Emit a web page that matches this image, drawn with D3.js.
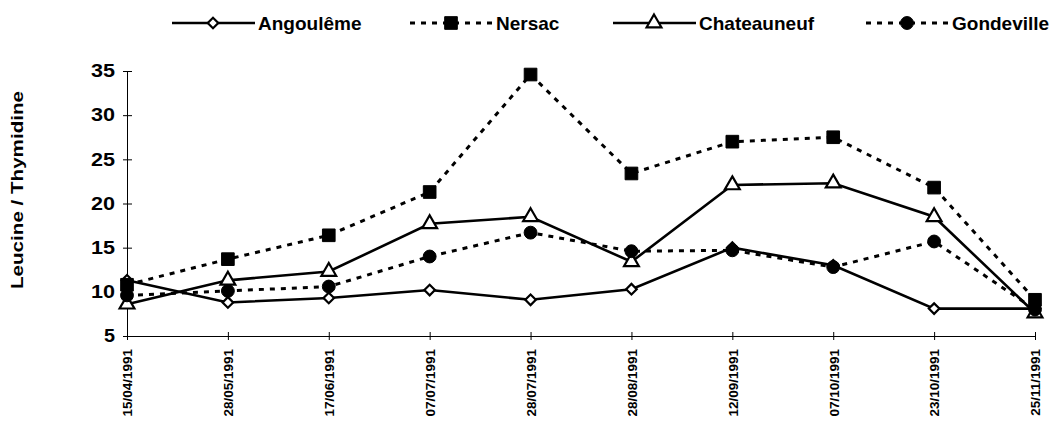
<!DOCTYPE html>
<html>
  <head>
    <meta charset="utf-8" />
    <title>Leucine / Thymidine</title>
    <script src="https://cdn.jsdelivr.net/npm/d3@7"></script>
    <style type="text/css">
      body { margin: 0; background: #fff; }
      text { font-family: "Liberation Sans", Arial, sans-serif; font-weight: bold; fill: #000; }
    </style>
  </head>

  <body>
    <svg id="chart" width="1056" height="432"></svg>
    <script type="text/javascript">
      // dates de prélèvement
      var dates = ['15/04/1991', '28/05/1991', '17/06/1991', '07/07/1991', '28/07/1991',
                   '28/08/1991', '12/09/1991', '07/10/1991', '23/10/1991', '25/11/1991'];
      var angouleme   = [11.3, 8.8, 9.3, 10.2, 9.1, 10.3, 15.0, 13.0, 8.1, 8.1];
      var nersac      = [10.8, 13.7, 16.4, 21.3, 34.6, 23.4, 27.0, 27.5, 21.8, 9.1];
      var chateauneuf = [8.6, 11.3, 12.3, 17.7, 18.5, 13.4, 22.1, 22.3, 18.5, 7.6];
      var gondeville  = [9.6, 10.1, 10.6, 14.0, 16.7, 14.6, 14.7, 12.8, 15.7, 8.0];
      var yTicks = [5, 10, 15, 20, 25, 30, 35];

      var series = [
        { name: 'Angoulême', values: angouleme, dash: null, marker: 'diamond' },
        { name: 'Nersac', values: nersac, dash: '5,6', marker: 'square' },
        { name: 'Chateauneuf', values: chateauneuf, dash: null, marker: 'triangle' },
        { name: 'Gondeville', values: gondeville, dash: '5,6', marker: 'circle' }
      ];

      var svg = d3.select('#chart');
      var mLeft = 127, mRight = 1035, mTop = 71, mBottom = 336;

      var scX = d3.scalePoint().domain(dates).range([mLeft, mRight]);
      var scY = d3.scaleLinear().domain([5, 35]).range([mBottom, mTop]);

      // axe Y
      var yAxis = svg.append('g').attr('transform', 'translate(' + mLeft + ',0)')
        .call(d3.axisLeft(scY).tickValues(yTicks).tickSize(0).tickPadding(12));
      yAxis.select('.domain').attr('stroke', '#000').attr('stroke-width', 1);
      yAxis.selectAll('.tick').append('line').attr('x1', -4).attr('x2', 5).attr('stroke', '#000');
      yAxis.selectAll('.tick text').attr('font-size', 18).attr('font-family', null)
        .attr('textLength', 24).attr('lengthAdjust', 'spacingAndGlyphs');
      yAxis.selectAll('.tick').filter((d) => d === 5).select('text').attr('textLength', 11);

      // axe X
      var xAxis = svg.append('g').attr('transform', 'translate(0,' + mBottom + ')')
        .call(d3.axisBottom(scX).tickSize(0));
      xAxis.select('.domain').attr('stroke', '#000').attr('stroke-width', 1);
      xAxis.selectAll('.tick').append('line').attr('y1', -4).attr('y2', 4).attr('stroke', '#000');
      xAxis.selectAll('.tick text')
        .attr('font-size', 13.5).attr('font-family', null)
        .attr('transform', 'rotate(-90)')
        .attr('text-anchor', 'end')
        .attr('x', -13).attr('y', 0).attr('dy', '0.36em');

      // titre de l'axe Y
      svg.append('text')
        .attr('transform', 'translate(23,190) rotate(-90)')
        .attr('text-anchor', 'middle')
        .attr('font-size', 17)
        .attr('textLength', 198).attr('lengthAdjust', 'spacingAndGlyphs')
        .text('Leucine / Thymidine');

      // le losange = carré tourné de 45°
      var sym = {
        diamond: d3.symbol().type(d3.symbolSquare).size(56),
        square: d3.symbol().type(d3.symbolSquare).size(160),
        triangle: d3.symbol().type(d3.symbolTriangle).size(95),
        circle: d3.symbol().type(d3.symbolCircle).size(130)
      };

      function drawMarker(g, type, x, y) {
        var filled = type === 'square' || type === 'circle';
        g.append('path')
          .attr('d', sym[type]())
          .attr('transform', 'translate(' + x + ',' + y + ')' + (type === 'diamond' ? ' rotate(45)' : ''))
          .attr('fill', filled ? '#000' : '#fff')
          .attr('stroke', '#000')
          .attr('stroke-width', filled ? 1 : 2.2);
      }

      var lineMaker = d3.line().x((d, i) => scX(dates[i])).y((d) => scY(d));

      series.forEach(function (s) {
        var g = svg.append('g');
        g.append('path')
          .attr('fill', 'none')
          .attr('stroke', '#000')
          .attr('stroke-width', s.dash ? 3 : 2.6)
          .attr('stroke-dasharray', s.dash)
          .attr('d', lineMaker(s.values));
        s.values.forEach(function (v, i) {
          drawMarker(g, s.marker, scX(dates[i]), scY(v));
        });
      });

      // légende
      var legendX = [172, 410, 613, 866];
      series.forEach(function (s, i) {
        var g = svg.append('g').attr('transform', 'translate(' + legendX[i] + ',23)');
        g.append('line').attr('x1', 0).attr('x2', 83)
          .attr('stroke', '#000')
          .attr('stroke-width', s.dash ? 3 : 2.6)
          .attr('stroke-dasharray', s.dash);
        drawMarker(g, s.marker, 41, 0);
        g.append('text').attr('x', 86).attr('dy', '0.36em')
          .attr('font-size', 19).text(s.name);
      });
    </script>
  </body>
</html>
